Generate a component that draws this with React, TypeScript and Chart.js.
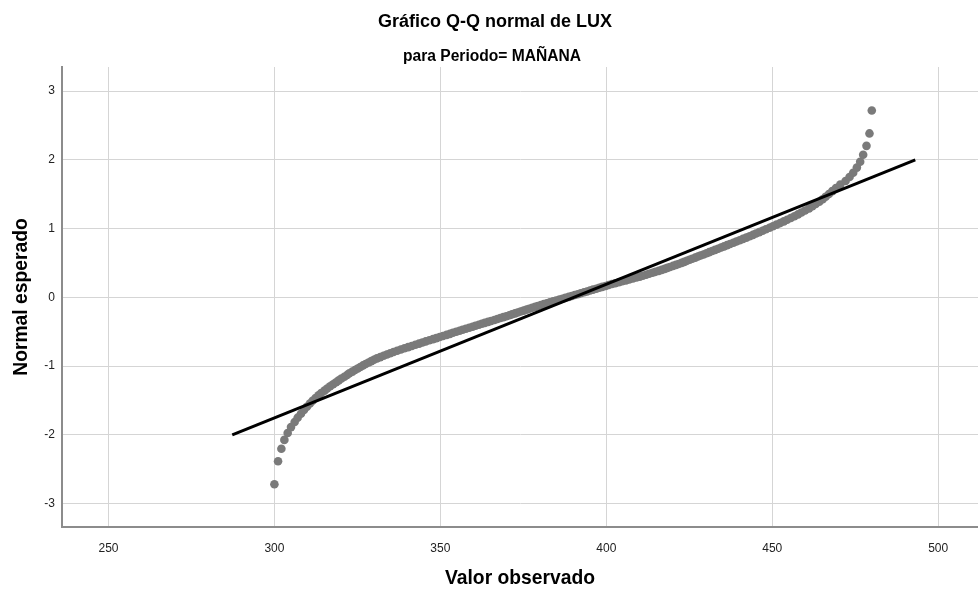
import { useEffect, useRef } from "react";
import { Chart, registerables } from "chart.js";

Chart.register(...registerables);

// Observed LUX values (sorted) for the morning period
const observedLux = [
  300.0, 301.1, 302.1, 303.0, 304.0, 305.0, 306.1, 307.0, 308.0, 308.9,
  309.8, 310.7, 311.5, 312.4, 313.3, 314.1, 315.1, 315.9, 316.8, 317.7,
  318.6, 319.4, 320.2, 321.1, 321.9, 322.6, 323.5, 324.3, 325.1, 325.9,
  326.7, 327.5, 328.4, 329.2, 330.0, 330.9, 331.9, 332.9, 333.9, 334.9,
  335.9, 337.0, 338.1, 339.2, 340.3, 341.4, 342.5, 343.6, 344.6, 345.6,
  346.7, 347.8, 348.8, 349.8, 350.8, 351.9, 352.9, 353.8, 354.8, 355.8,
  356.7, 357.7, 358.7, 359.7, 360.6, 361.6, 362.5, 363.4, 364.4, 365.3,
  366.3, 367.2, 368.1, 369.0, 369.9, 370.8, 371.6, 372.5, 373.3, 374.2,
  375.1, 376.0, 376.8, 377.7, 378.6, 379.4, 380.3, 381.2, 382.1, 383.0,
  384.0, 384.9, 385.9, 386.8, 387.7,
  388.7, 389.6, 390.5, 391.4, 392.3,
  393.3, 394.2, 395.1, 396.0, 397.0, 397.9, 398.8, 399.8, 400.7, 401.7,
  402.7, 403.8, 404.8, 405.9, 406.9, 408.0, 409.1, 410.1, 411.0, 412.0,
  412.9, 413.9, 414.8, 415.8, 416.7, 417.6, 418.4, 419.2, 420.1, 421.0,
  421.8, 422.7, 423.5, 424.3, 425.1, 425.9, 426.8, 427.6, 428.4, 429.3,
  430.2, 431.0, 431.9, 432.8, 433.7, 434.6, 435.5, 436.4, 437.3, 438.3,
  439.2, 440.2, 441.2, 442.2, 443.2, 444.2, 445.1, 446.1, 447.1, 448.1,
  449.2, 450.2, 451.3, 452.4, 453.5, 454.5, 455.6, 456.7, 457.8, 458.8,
  459.9, 461.1, 462.1, 463.1, 464.2, 465.2, 466.1, 467.1, 468.1, 469.2,
  470.5, 472.1, 473.3, 474.4, 475.5, 476.5, 477.4, 478.4, 479.3, 480.0,
];

// Expected normal scores for each sorted observation
const expectedNormal = [
  -2.718, -2.384, -2.203, -2.073, -1.972, -1.887, -1.813, -1.750, -1.692, -1.639,
  -1.591, -1.545, -1.503, -1.464, -1.426, -1.391, -1.357, -1.325, -1.294, -1.264,
  -1.235, -1.207, -1.180, -1.154, -1.129, -1.105, -1.080, -1.057, -1.034, -1.012,
  -0.990, -0.969, -0.948, -0.928, -0.908, -0.888, -0.869, -0.850, -0.831, -0.812,
  -0.794, -0.776, -0.759, -0.741, -0.724, -0.707, -0.690, -0.673, -0.657, -0.641,
  -0.624, -0.608, -0.593, -0.577, -0.562, -0.546, -0.531, -0.516, -0.501, -0.486,
  -0.472, -0.457, -0.442, -0.428, -0.414, -0.399, -0.385, -0.371, -0.357, -0.343,
  -0.329, -0.315, -0.301, -0.288, -0.274, -0.260, -0.247, -0.233, -0.220, -0.206,
  -0.193, -0.179, -0.166, -0.152, -0.139, -0.126, -0.112, -0.099, -0.086, -0.073,
  -0.059, -0.046, -0.033, -0.020, -0.007,
  0.007, 0.020, 0.033, 0.046, 0.059,
  0.073, 0.086, 0.099, 0.112, 0.126, 0.139, 0.152, 0.166, 0.179, 0.193,
  0.206, 0.220, 0.233, 0.247, 0.260, 0.274, 0.288, 0.301, 0.315, 0.329,
  0.343, 0.357, 0.371, 0.385, 0.399, 0.414, 0.428, 0.442, 0.457, 0.472,
  0.486, 0.501, 0.516, 0.531, 0.546, 0.562, 0.577, 0.593, 0.608, 0.624,
  0.641, 0.657, 0.673, 0.690, 0.707, 0.724, 0.741, 0.759, 0.776, 0.794,
  0.812, 0.831, 0.850, 0.869, 0.888, 0.908, 0.928, 0.948, 0.969, 0.990,
  1.012, 1.034, 1.057, 1.080, 1.105, 1.129, 1.154, 1.180, 1.207, 1.235,
  1.264, 1.294, 1.325, 1.357, 1.391, 1.426, 1.464, 1.503, 1.545, 1.591,
  1.639, 1.692, 1.750, 1.813, 1.887, 1.972, 2.073, 2.203, 2.384, 2.718,
];

// Reference line of the fitted normal distribution (end points)
const refLineLux = [287.3, 493.1];
const refLineNormal = [-2.0, 2.0];

const xTickValues = [250, 300, 350, 400, 450, 500];
const yTickValues = [-3, -2, -1, 0, 1, 2, 3];

const chartTitle = "Gráfico Q-Q normal de LUX";
const chartSubtitle = "para Periodo= MAÑANA";

const FONT = "'Liberation Sans', Arial, Helvetica, sans-serif";

// Draws the two header lines above the plot area
const headerPlugin = {
  id: "headerText",
  afterDraw(chart: any) {
    const { ctx } = chart;
    ctx.save();
    ctx.fillStyle = "#000";
    ctx.textAlign = "center";
    ctx.textBaseline = "alphabetic";
    ctx.font = `bold 18px ${FONT}`;
    ctx.fillText(chartTitle, 495, 27);
    ctx.font = `bold 15.6px ${FONT}`;
    ctx.fillText(chartSubtitle, 492, 61);
    ctx.restore();
  },
};

export default function App() {
  const canvasRef = useRef<HTMLCanvasElement>(null);

  useEffect(() => {
    document.body.style.margin = "0";
    document.body.style.overflow = "hidden";
    const canvas = canvasRef.current;
    if (!canvas) return;

    const chart = new Chart(canvas, {
      type: "scatter",
      data: {
        datasets: [
          {
            label: "Referencia",
            data: refLineLux.map((x, i) => ({ x, y: refLineNormal[i] })),
            showLine: true,
            borderColor: "#000000",
            borderWidth: 3,
            pointRadius: 0,
            fill: false,
          },
          {
            label: "LUX",
            data: observedLux.map((x, i) => ({ x, y: expectedNormal[i] })),
            backgroundColor: "#7a7a7a",
            borderWidth: 0,
            pointRadius: 4.3,
          },
        ],
      },
      plugins: [headerPlugin],
      options: {
        responsive: false,
        animation: false,
        layout: {
          autoPadding: false,
          padding: { top: 67, left: 0, right: 0, bottom: 0 },
        },
        plugins: {
          legend: { display: false },
          tooltip: { enabled: false },
          title: { display: false },
          subtitle: { display: false },
        },
        scales: {
          x: {
            type: "linear",
            min: 236,
            max: 512,
            afterBuildTicks: (scale: any) => {
              scale.ticks = xTickValues.map((value) => ({ value }));
            },
            afterFit: (scale: any) => {
              scale.height = 63;
              scale.paddingLeft = 0;
              scale.paddingRight = 0;
            },
            grid: { color: "#d5d5d5", lineWidth: 1, drawTicks: false },
            border: { color: "#8c8c8c", width: 2 },
            ticks: { padding: 14, color: "#222", font: { family: FONT, size: 12 } },
            title: {
              display: true,
              text: "Valor observado",
              color: "#000",
              font: { family: FONT, size: 19.3, weight: "bold", lineHeight: 1.2 },
              padding: { top: 0, bottom: 0 },
            },
          },
          y: {
            type: "linear",
            min: -3.34,
            max: 3.35,
            afterBuildTicks: (scale: any) => {
              scale.ticks = yTickValues.map((value) => ({ value }));
            },
            afterFit: (scale: any) => {
              scale.width = 62;
              scale.paddingTop = 0;
              scale.paddingBottom = 0;
            },
            grid: { color: "#d5d5d5", lineWidth: 1, drawTicks: false },
            border: { color: "#8c8c8c", width: 2 },
            ticks: { padding: 7, color: "#222", font: { family: FONT, size: 12 } },
            title: {
              display: true,
              text: "Normal esperado",
              color: "#000",
              font: { family: FONT, size: 19.3, weight: "bold", lineHeight: 1.2 },
              padding: { top: 10.5, bottom: 0 },
            },
          },
        },
      },
    });

    return () => chart.destroy();
  }, []);

  return (
    <div style={{ width: 978, height: 590, overflow: "hidden" }}>
      <canvas
        ref={canvasRef}
        width={978}
        height={590}
        style={{ display: "block", width: 978, height: 590 }}
      />
    </div>
  );
}
